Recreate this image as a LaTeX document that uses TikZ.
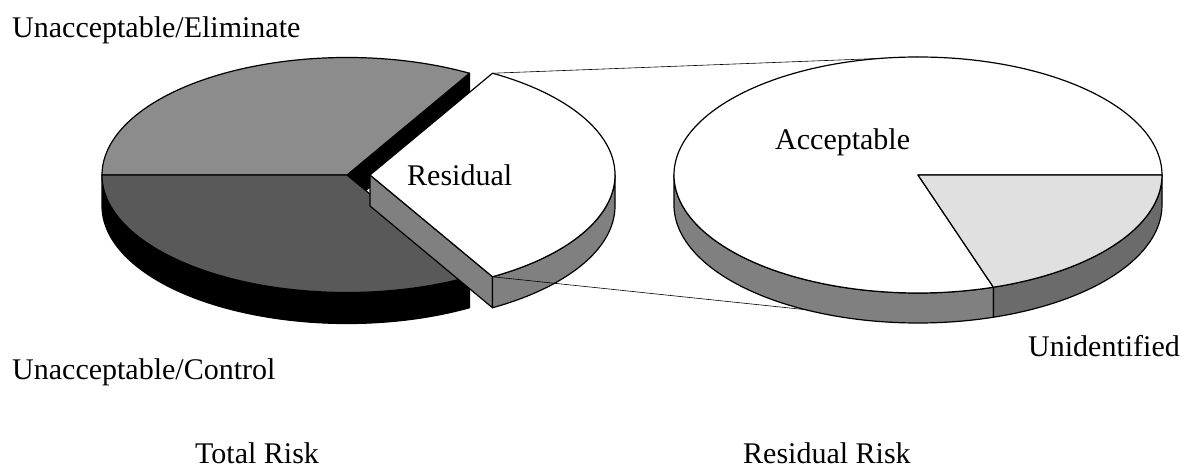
\documentclass[tikz,border=0pt]{standalone}
\usepackage{fontspec}
\setmainfont{Liberation Serif}
\usetikzlibrary{calc}

\begin{document}
\begin{tikzpicture}[x=1pt,y=1pt,
  rim/.style={draw=black,line width=1.2pt,line join=round},
  guide/.style={draw=black,line width=0.6pt},
  lbl/.style={font=\fontsize{30}{36}\selectfont,inner sep=0pt,anchor=base west},
  lpie/.style={x radius=245pt,y radius=117.5pt},
  rpie/.style={x radius=244pt,y radius=118pt}]
\useasboundingbox (0,0) rectangle (1181,469);

% pie centres
\coordinate (tc) at (347,294);
\coordinate (rc) at (370,294);
\coordinate (ac) at (918,294);

% total risk: sides first
\filldraw[rim,fill=black] (tc) ++(180:245pt and 117.5pt) arc[lpie,start angle=180,end angle=300] -- ++(0,-31) arc[lpie,start angle=300,end angle=180] -- cycle;
\filldraw[rim,fill=black] (tc) -- ++(60:245pt and 117.5pt) -- ++(0,-31) -- ($(tc)+(0,-31)$) -- cycle;
% total risk: tops
\filldraw[rim,fill=gray!90!white] (tc) -- ++(60:245pt and 117.5pt) arc[lpie,start angle=60,end angle=180] -- cycle;
\filldraw[rim,fill=black!65] (tc) -- ++(180:245pt and 117.5pt) arc[lpie,start angle=180,end angle=300] -- cycle;

% residual slice, pulled out
\filldraw[rim,fill=gray] (rc) -- ++(-60:245pt and 117.5pt) -- ++(0,-31) -- ($(rc)+(0,-31)$) -- cycle;
\filldraw[rim,fill=gray] (rc) ++(-60:245pt and 117.5pt) arc[lpie,start angle=-60,end angle=0] -- ++(0,-31) arc[lpie,start angle=0,end angle=-60] -- cycle;
\filldraw[rim,fill=white] (rc) -- ++(-60:245pt and 117.5pt) arc[lpie,start angle=-60,end angle=60] -- cycle;

% guide lines
\coordinate (restop) at ($(rc)+(60:245pt and 117.5pt)$);
\coordinate (resbot) at ($(rc)+(-60:245pt and 117.5pt)$);
\coordinate (acctop) at ($(ac)+(90:244pt and 118pt)$);
\coordinate (accbot) at ($(ac)+(-117.5:244pt and 118pt)+(0,-30)$);
\draw[guide] (restop) -- (acctop);
\draw[guide] (resbot) -- (accbot);

% residual risk pie
\filldraw[rim,fill=gray] (ac) ++(180:244pt and 118pt) arc[rpie,start angle=180,end angle=288] -- ++(0,-30) arc[rpie,start angle=288,end angle=180] -- cycle;
\filldraw[rim,fill=black!58] (ac) ++(288:244pt and 118pt) arc[rpie,start angle=288,end angle=360] -- ++(0,-30) arc[rpie,start angle=360,end angle=288] -- cycle;
\filldraw[rim,fill=white] (ac) -- ++(0:244pt and 118pt) arc[rpie,start angle=0,end angle=288] -- cycle;
\filldraw[rim,fill=black!12] (ac) -- ++(288:244pt and 118pt) arc[rpie,start angle=288,end angle=360] -- cycle;

% labels
\node[lbl] (elim) at (12,431) {Unacceptable/Eliminate};
\node[lbl] (ctrl) at (12,89) {Unacceptable/Control};
\node[lbl] (resid) at (407,283) {Residual};
\node[lbl] (accept) at (775,319) {Acceptable};
\node[lbl] (unid) at (1028,113) {Unidentified};
\node[lbl] (total) at (195,6) {Total Risk};
\node[lbl] (rrisk) at (743,6) {Residual Risk};
\end{tikzpicture}
\end{document}
